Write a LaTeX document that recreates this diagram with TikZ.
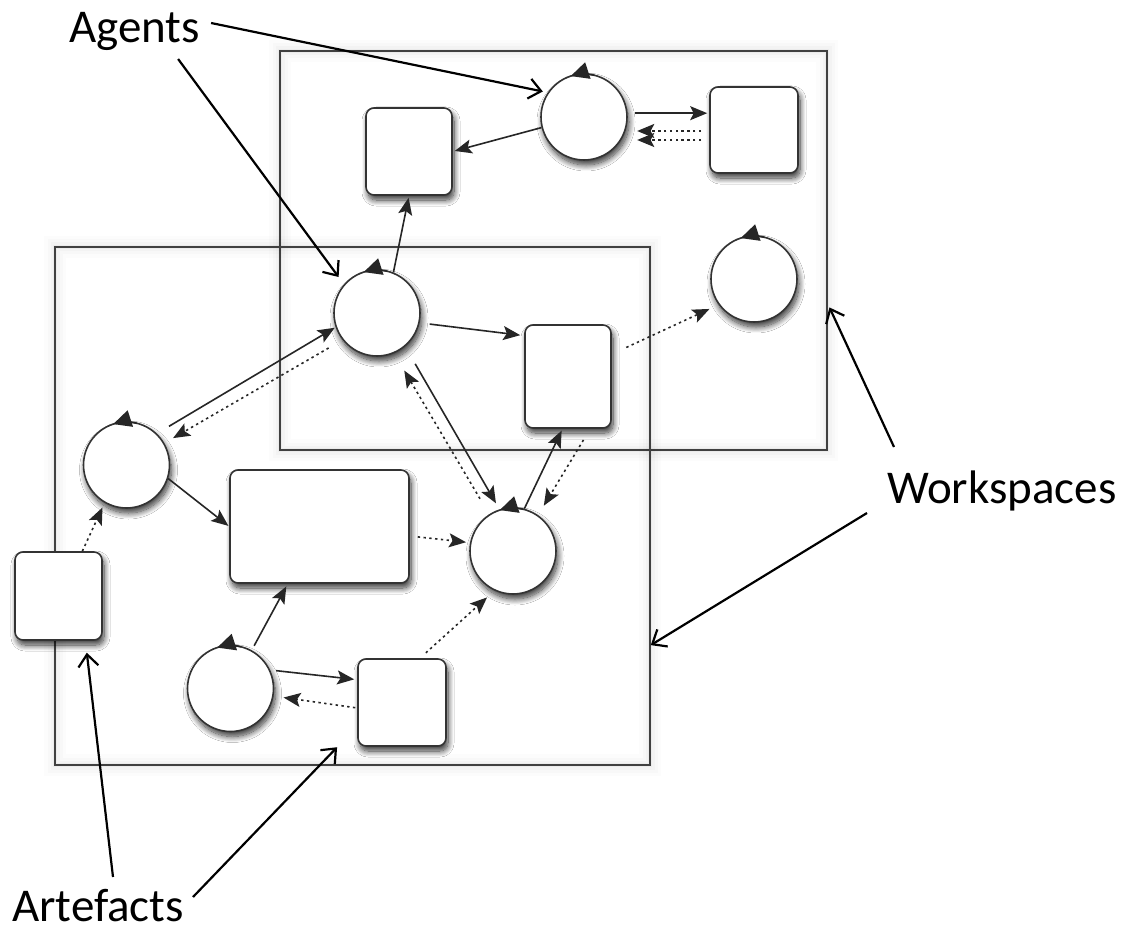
\documentclass[tikz,border=0pt]{standalone}
\usepackage{fontspec}
\setmainfont{Carlito}
\usetikzlibrary{arrows.meta,shadows.blur}
\tikzset{
  nodeshadow/.style={blur shadow={shadow xshift=2pt, shadow yshift=-5pt, shadow blur radius=6pt, shadow blur steps=12, shadow opacity=80}},
  agent/.style={circle, draw=black!80, line width=1.6pt, fill=white, minimum size=86pt, inner sep=0pt, nodeshadow},
  artefact/.style={rectangle, rounded corners=8pt, draw=black!80, line width=1.6pt, fill=white, inner sep=0pt, nodeshadow},
  workspace/.style={rectangle, draw=black!75, line width=1.6pt, inner sep=0pt,
    preaction={draw=black, draw opacity=0.012, line width=22pt},
    preaction={draw=black, draw opacity=0.015, line width=15pt},
    preaction={draw=black, draw opacity=0.02, line width=9pt},
    preaction={draw=black, draw opacity=0.03, line width=4pt}},
  link/.style={draw=black!85, line width=1.6pt, -{Stealth[length=17pt,width=14pt,inset=3.5pt]}},
  dotlink/.style={link, dash pattern=on 2.4pt off 3.4pt},
  callout/.style={draw=black, line width=2.2pt, -{Straight Barb[length=12pt,width=20pt]}},
  loopmark/.style={draw=black!85, line width=1.6pt, -{Triangle[length=18pt,width=17pt]}},
  calltext/.style={anchor=base west, inner sep=0pt, font=\fontsize{47}{56}\selectfont},
}
\begin{document}
\begin{tikzpicture}[x=1pt,y=1pt]
\useasboundingbox (0,0) rectangle (1125,-933);
\fill[white] (0,0) rectangle (1125,-933);

% workspaces
\node[workspace, minimum width=547pt, minimum height=399pt] (W1) at (553.5,-250.5) {};
\node[workspace, minimum width=595pt, minimum height=518pt] (W2) at (352.5,-506) {};

% artefacts
\node[artefact, minimum width=86pt, minimum height=87pt] (B1) at (409,-151.5) {};
\node[artefact, minimum width=88pt, minimum height=86pt] (B2) at (754,-130) {};
\node[artefact, minimum width=86pt, minimum height=103pt] (B3) at (568,-376.5) {};
\node[artefact, minimum width=179pt, minimum height=113pt] (B4) at (319.5,-526.5) {};
\node[artefact, minimum width=87pt, minimum height=88pt] (B5) at (58.5,-596) {};
\node[artefact, minimum width=88pt, minimum height=87pt] (B6) at (402,-702.5) {};

% agents
\node[agent] (A1) at (584,-117) {};
\node[agent] (A2) at (377,-313) {};
\node[agent] (A3) at (754,-279) {};
\node[agent] (A4) at (126.5,-465) {};
\node[agent] (A5) at (513,-551) {};
\node[agent] (A6) at (230.5,-688.5) {};

% cycle marks on agents
\foreach \a in {A1,A2,A3,A4,A5,A6}{
  \draw[loopmark] (\a.center) ++(76:43) arc[start angle=76, end angle=108, radius=43pt];
}

% connectors
\draw[link, shorten >=2pt] (A1.194) -- (B1.east);
\draw[link, shorten <=7pt, shorten >=2pt] (A1.5) -- (A1.5 -| B2.west);
\draw[dotlink] (B2.west) ++(-8,-1) -- ++(-64,0);
\draw[dotlink] (B2.west) ++(-8,-10) -- ++(-64,0);
\draw[link, shorten >=2pt] (A2.68) -- (B1.south);
\draw[link, shorten <=10pt, shorten >=4pt] (A2.-13) -- (B3.137);
\draw[dotlink, shorten <=16pt, shorten >=10pt] (B3.27) -- (A3.216);
\draw[link, shorten <=14pt, shorten >=1pt] (A4.46) -- (A2.199);
\draw[dotlink, shorten <=16pt, shorten >=10pt] (A2.218) -- (A4.30);
\draw[link, shorten <=20pt, shorten >=7pt] (A2.-50) -- (A5.108);
\draw[dotlink, shorten <=18pt, shorten >=20pt] (A5.123) -- (A2.-67);
\draw[link, shorten >=2pt] (A5.75) -- (B3.264);
\draw[dotlink, shorten <=13pt, shorten >=11pt] (B3.-67) -- (A5.55);
\draw[link, shorten >=1pt] (A4.-18) -- (B4.west);
\draw[dotlink, shorten >=5pt] (B5.62) -- (A4.240);
\draw[dotlink, shorten <=8pt, shorten >=4pt] (B4.-6) -- (A5.169);
\draw[link, shorten <=5pt, shorten >=3pt] (A6.61) -- (B4.241);
\draw[link, shorten <=6pt, shorten >=3pt] (A6.25) -- (B6.153);
\draw[dotlink, shorten <=2pt, shorten >=10pt] (B6.187) -- (A6.-10);
\draw[dotlink, shorten <=8pt, shorten >=10pt] (B6.68) -- (A5.245);

% labels
\node[calltext] (agents) at (69,-43) {Agents};
\node[calltext] (ws) at (887,-503) {Workspaces};
\node[calltext] (art) at (12,-921) {Artefacts};

% callouts
\draw[callout, shorten >=5pt] ([shift={(11,20)}]agents.base east) -- (A1.146);
\draw[callout, shorten >=9pt] ([shift={(-22,-16)}]agents.base east) -- (A2.139);
\draw[callout, shorten >=4pt] ([shift={(7,56)}]ws.base west) -- (W1.-11.9);
\draw[callout] ([shift={(-20,-10)}]ws.base west) -- (W2.-25.8);
\draw[callout, shorten >=12pt] ([shift={(101,44)}]art.base west) -- (B5.-59);
\draw[callout, shorten >=29pt] ([shift={(181,24)}]art.base west) -- (B6.208);
\end{tikzpicture}
\end{document}
